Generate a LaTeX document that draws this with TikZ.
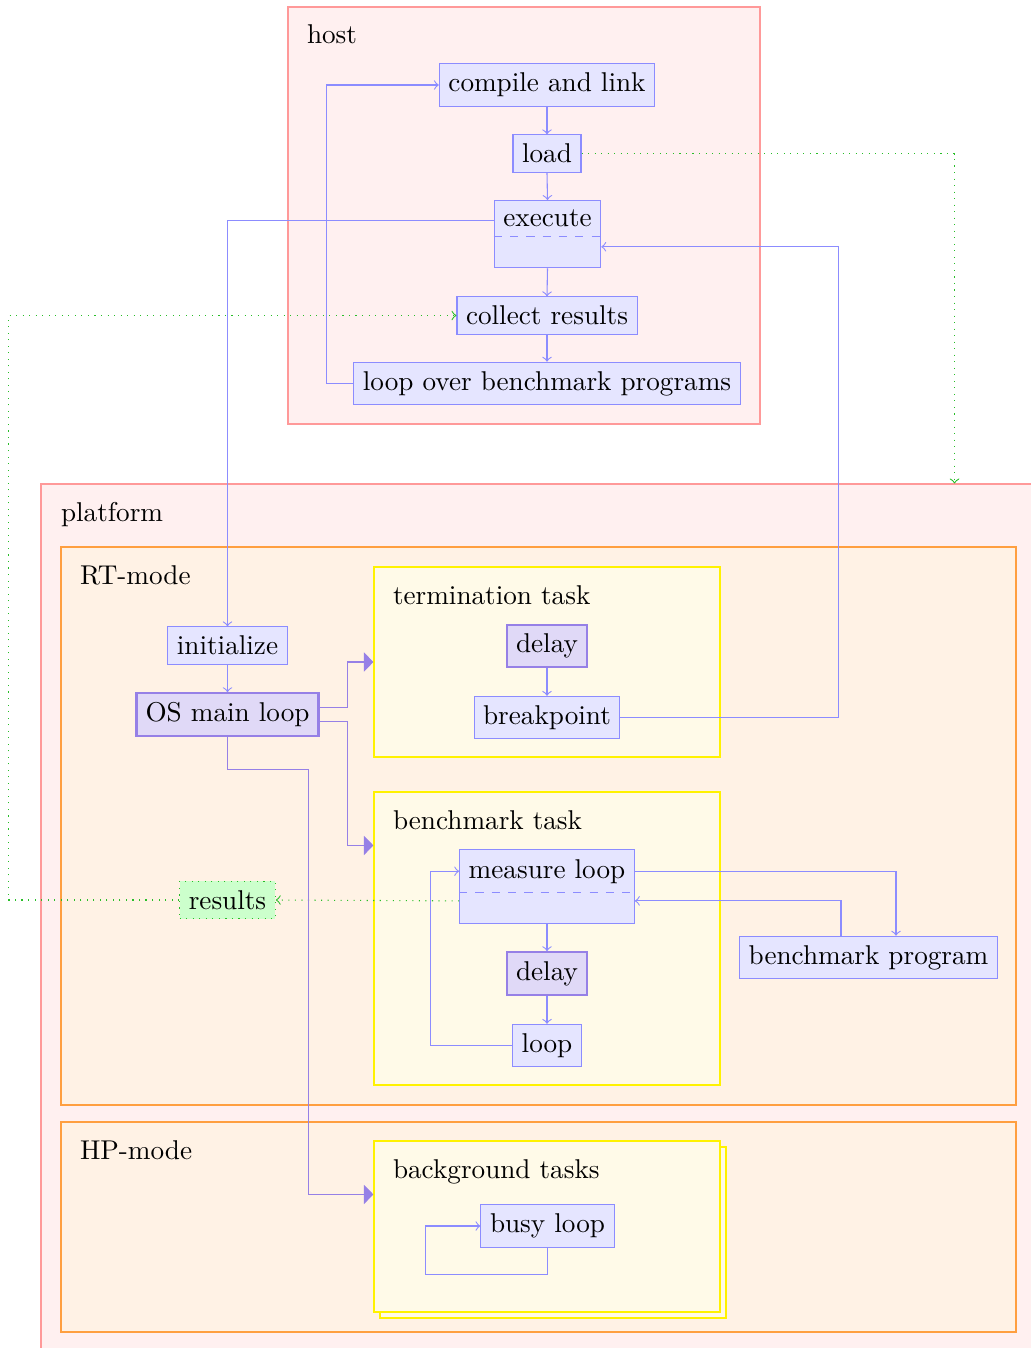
\documentclass[tikz,border=0pt]{standalone}
\usepackage{xcolor}
\usepackage{tikz}
\usetikzlibrary{positioning, arrows.meta, shapes.multipart, fit, shadows}

\definecolor{hotfill}{RGB}{224,217,247}
\definecolor{hotdraw}{RGB}{150,128,230}
\definecolor{resgreen}{RGB}{40,190,40}
\definecolor{taskfill}{RGB}{255,250,232}

\begin{document}
\begin{tikzpicture}[x=0.3678pt, y=-0.3678pt, >=to,
    blk/.style={draw=blue!45, fill=blue!10, thin},
    hotblk/.style={draw=hotdraw, fill=hotfill, line width=0.8pt},
    twopart/.style={rectangle split, rectangle split parts=2, rectangle split draw splits=false},
    areabox/.style={draw=red!40, fill=red!6, inner sep=0pt},
    modebox/.style={draw=orange!75, fill=orange!10, inner sep=0pt},
    taskbox/.style={draw=yellow, fill=taskfill, inner sep=0pt},
    lbl/.style={anchor=base west, inner sep=0pt},
    flow/.style={->, blue!45},
    spawn/.style={-{Triangle[length=3.5pt,width=7pt]}, hotdraw},
    datafl/.style={->, dotted, resgreen},
    resbox/.style={draw=resgreen, dotted, fill=green!20}]
    \useasboundingbox (0,0) rectangle (1030,1348);
    % Containers
    \node[areabox, fit={(288,7) (760,424)}] (host) {};
    \node[areabox, fit={(41,484) (1036,1352)}] (platform) {};
    \node[modebox, fit={(61,547) (1016,1105)}] (rtmode) {};
    \node[modebox, fit={(61,1122) (1016,1332)}] (hpmode) {};
    \node[taskbox, fit={(374,567) (720,757)}] (term) {};
    \node[taskbox, fit={(374,792) (720,1085)}] (bench) {};
    \node[taskbox, copy shadow={shadow xshift=2.2pt, shadow yshift=-2.2pt},
        fit={(374,1141) (720,1312)}] (bg) {};
    % Container labels
    \node[lbl] (hostlbl) at ([shift={(19,37)}]host.north west) {host};
    \node[lbl] (platformlbl) at ([shift={(20,38)}]platform.north west) {platform};
    \node[lbl] (rtlbl) at ([shift={(19,38)}]rtmode.north west) {RT-mode};
    \node[lbl] (hplbl) at ([shift={(19,38)}]hpmode.north west) {HP-mode};
    \node[lbl] (termlbl) at ([shift={(19,38)}]term.north west) {termination task};
    \node[lbl] (benchlbl) at ([shift={(19,38)}]bench.north west) {benchmark task};
    \node[lbl] (bglbl) at ([shift={(19,38)}]bg.north west) {background tasks};
    % Host
    \node[blk] (compile) at (547,85) {compile and link};
    \node[blk] (load) at (547,153.5) {load};
    \node[blk, twopart, anchor=north] (execute) at (547.5,200) {execute\nodepart{two}};
    \node[blk] (collect) at (547,315.5) {collect results};
    \node[blk] (loopbench) at (547,383.5) {loop over benchmark programs};
    % Platform
    \node[blk] (initialize) at (227.5,645.5) {initialize};
    \node[blk, hotblk] (osloop) at (227.5,714.5) {OS main loop};
    \node[resbox] (results) at (227.5,900) {results};
    \node[blk, hotblk] (tdelay) at (547,646) {delay};
    \node[blk] (brk) at (547,717.5) {breakpoint};
    \node[blk, twopart, anchor=north] (measure) at (547,849) {measure loop\nodepart{two}};
    \node[blk, hotblk] (bdelay) at (547,973.5) {delay};
    \node[blk] (bloop) at (547,1045.5) {loop};
    \node[blk] (bprog) at (868.5,957.5) {benchmark program};
    \node[blk] (busy) at (547.5,1226) {busy loop};
    % Splits
    \draw[dashed, blue!45] (execute.text split west) -- (execute.text split east);
    \draw[dashed, blue!45] (measure.text split west) -- (measure.text split east);
    % Host flow
    \draw[flow] (compile.south) -- (load.north);
    \draw[flow] (load.south) -- (execute.north);
    \draw[flow] (execute.south) -- (collect.north);
    \draw[flow] (collect.south) -- (loopbench.north);
    \draw[flow] (loopbench.west) -- ++(-27,0) |- (compile.west);
    \draw[flow] ([shift={(0,2)}]execute.text west) -| (initialize.north);
    \draw[flow] (brk.east) -- ++(218,0) |- ([shift={(0,10)}]execute.text split east);
    % Data
    \draw[datafl] (load.east) -| ([shift={(-82,0)}]platform.north east);
    \draw[datafl] (results.west) -- ++(-171,0) |- (collect.west);
    \draw[datafl] ([shift={(0,8)}]measure.text split west) -- (results.east);
    % RT-mode
    \draw[flow] (initialize.south) -- (osloop.north);
    \draw[spawn] ([shift={(0,-7)}]osloop.east) -- ++(28,0) |- (term.west);
    \draw[spawn] ([shift={(0,7)}]osloop.east) -- ++(28,0) |- ([shift={(0,54)}]bench.north west);
    \draw[spawn] (osloop.south) -- ++(0,33) -- ++(81,0) |- ([shift={(0,54)}]bg.north west);
    \draw[flow] (tdelay.south) -- (brk.north);
    \draw[flow] (measure.south) -- (bdelay.north);
    \draw[flow] (bdelay.south) -- (bloop.north);
    \draw[flow] (bloop.west) -- ++(-82,0) |- (measure.text west);
    \draw[flow] (measure.text east) -| ([shift={(27.5,0)}]bprog.north);
    \draw[flow] ([shift={(-27.5,0)}]bprog.north) |- ([shift={(0,8)}]measure.text split east);
    % HP-mode
    \draw[flow] (busy.south) |- ++(-122,27) |- (busy.west);
\end{tikzpicture}
\end{document}
